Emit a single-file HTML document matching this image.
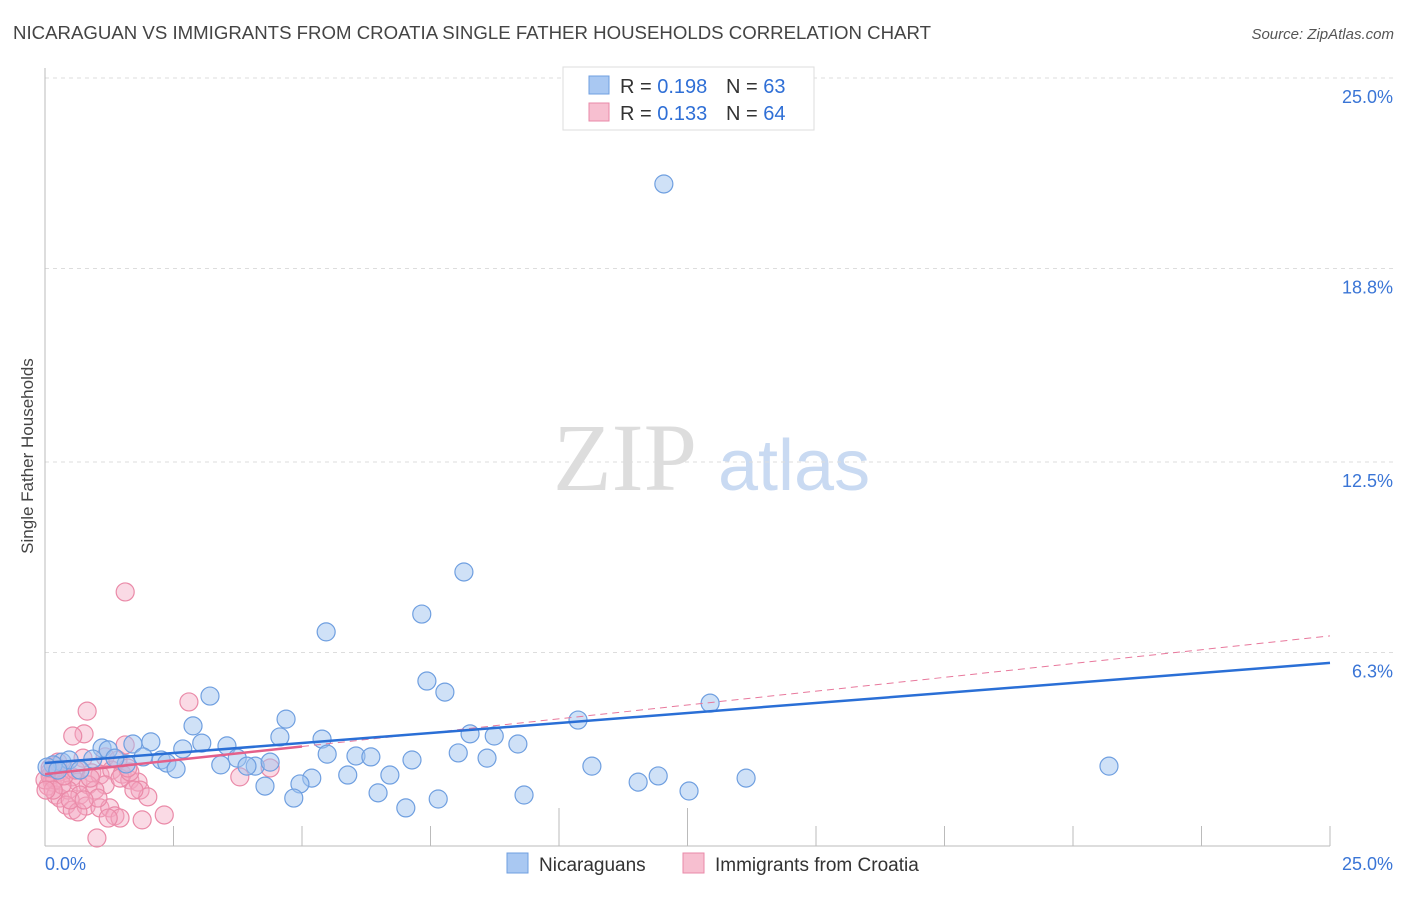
<!DOCTYPE html>
<html><head><meta charset="utf-8"><style>
body{margin:0;background:#fff;font-family:"Liberation Sans",sans-serif}
svg text{font-family:"Liberation Sans",sans-serif}
</style></head><body>
<svg id="chart" width="1406" height="892" viewBox="0 0 1406 892" xmlns="http://www.w3.org/2000/svg">
<text x="13" y="39" font-size="18" fill="#444" textLength="918" lengthAdjust="spacingAndGlyphs">NICARAGUAN VS IMMIGRANTS FROM CROATIA SINGLE FATHER HOUSEHOLDS CORRELATION CHART</text>
<text x="1394" y="39" font-size="15" fill="#555" text-anchor="end" font-style="italic">Source: ZipAtlas.com</text>
<g>
<text x="553" y="490" font-size="96" fill="#ddd" style="font-family:'Liberation Serif',serif">ZIP</text>
<text x="718" y="490" font-size="72" fill="#c9daf2">atlas</text>
</g>
<g id="grid"></g>
<g id="axes"></g>
<g id="trends"></g>
<g id="points"></g>
<text transform="translate(33,456) rotate(-90)" font-size="17" fill="#444" text-anchor="middle">Single Father Households</text>
<g>
<rect x="563" y="67" width="251" height="63" fill="#fff" stroke="#ddd"/>
<rect x="589" y="76" width="20" height="18" fill="#a9c8f2" stroke="#6f9fe0"/>
<text x="620" y="93" font-size="20" fill="#333">R = <tspan fill="#2f6fd6">0.198</tspan></text>
<text x="726" y="93" font-size="20" fill="#333">N = <tspan fill="#2f6fd6">63</tspan></text>
<rect x="589" y="103" width="20" height="18" fill="#f7bfd0" stroke="#ea8aa8"/>
<text x="620" y="120" font-size="20" fill="#333">R = <tspan fill="#2f6fd6">0.133</tspan></text>
<text x="726" y="120" font-size="20" fill="#333">N = <tspan fill="#2f6fd6">64</tspan></text>
</g>
<g>
<rect x="507" y="853" width="21" height="20" fill="#a9c8f2" stroke="#6f9fe0"/>
<text x="539" y="871" font-size="19" fill="#333">Nicaraguans</text>
<rect x="683" y="853" width="21" height="20" fill="#f7bfd0" stroke="#ea8aa8"/>
<text x="715" y="871" font-size="19" fill="#333">Immigrants from Croatia</text>
</g>
</svg>
<script>
const yTicks=[25.0,18.8,12.5,6.3];
const yTickLabels=["25.0%","18.8%","12.5%","6.3%"];
const xTickLabels=["0.0%","25.0%"];
const blueX=[12.04,8.15,7.33,5.47,7.43,7.78,3.21,12.94,4.69,10.37,2.88,8.27,8.74,4.57,5.39,2.06,1.71,9.20,3.05,3.54,2.68,1.11,1.23,5.49,6.05,6.34,8.04,8.60,0.33,0.47,0.93,1.91,2.26,2.37,2.55,3.74,4.09,3.93,4.38,3.42,7.14,10.64,20.70,1.58,0.16,0.04,5.19,4.96,5.89,6.71,11.93,13.64,11.54,4.28,12.53,6.48,9.32,7.65,4.84,7.02,0.25,0.68,1.36];
const blueY=[21.55,8.92,7.55,6.97,5.37,5.01,4.88,4.65,4.13,4.10,3.91,3.65,3.58,3.55,3.48,3.39,3.32,3.32,3.35,3.26,3.16,3.19,3.13,2.99,2.93,2.90,3.03,2.86,2.73,2.80,2.83,2.90,2.80,2.70,2.51,2.86,2.60,2.60,2.73,2.64,2.80,2.60,2.60,2.67,2.64,2.57,2.21,2.02,2.31,2.31,2.28,2.21,2.08,1.95,1.79,1.73,1.66,1.53,1.56,1.24,2.47,2.47,2.86];
const pinkX=[1.56,2.80,0.82,0.76,0.54,1.17,0.74,0.21,0.10,0.29,0.39,0.53,0.64,0.91,1.07,1.30,1.50,1.65,1.81,0.84,1.17,0.14,0.06,0.21,0.29,0.45,0.68,0.97,1.46,1.65,1.85,2.00,0.41,0.53,0.80,0.64,1.07,1.26,1.36,1.46,1.23,1.89,2.32,1.01,4.38,3.79,0.10,0.19,0.33,0.00,0.10,0.25,0.37,0.60,0.88,1.03,1.42,1.61,1.73,0.49,0.76,0.16,0.02,1.56];
const pinkY=[8.27,4.69,4.39,3.65,3.58,2.90,2.86,2.60,2.41,2.41,2.47,2.25,2.08,2.38,2.31,2.47,2.34,2.15,2.08,1.99,1.99,2.08,1.95,1.66,1.56,1.82,1.66,1.82,2.21,2.41,1.82,1.60,1.33,1.17,1.30,1.11,1.24,1.24,0.98,0.91,0.91,0.85,1.01,0.26,2.54,2.25,2.28,2.15,1.99,2.15,2.54,2.73,2.28,2.47,2.21,1.56,2.80,2.54,1.82,1.50,1.50,1.82,1.82,3.29];
const blueTrend=[2.70,5.96];
const pinkTrend=[2.34,6.84];
const pinkSolidEnd=5.0;

const NS="http://www.w3.org/2000/svg";
const x0=45,x1=1330,yb=846,yt=78;
const sx=v=>x0+(v/25)*(x1-x0);
const sy=v=>yb-(v/25)*(yb-yt);
function mk(t,a,p){const e=document.createElementNS(NS,t);for(const k in a)e.setAttribute(k,a[k]);p.appendChild(e);return e;}
const grid=document.getElementById('grid'),axes=document.getElementById('axes'),tr=document.getElementById('trends'),pts=document.getElementById('points');
yTicks.forEach((v,i)=>{
  const l=mk('line',{x1:x0,x2:1394,y1:sy(v),y2:sy(v),stroke:'#ddd','stroke-dasharray':'4,4'},grid);
  
  
  const t=mk('text',{x:1393,y:sy(v)+25,'font-size':18,fill:'#3a75d6','text-anchor':'end'},axes);
  t.textContent=yTickLabels[i];
  
  
});
const ya=mk('line',{x1:x0,x2:x0,y1:68,y2:yb,stroke:'#bbb'},axes);


const xa=mk('line',{x1:x0,x2:x1,y1:yb,y2:yb,stroke:'#bbb'},axes);


for(let i=1;i<=10;i++){
  const tk=mk('line',{x1:sx(i*2.5),x2:sx(i*2.5),y1:(i==4||i==5)?808:826,y2:yb,stroke:'#bbb'},axes);
  
  
}
const xl0=mk('text',{x:x0,y:870,'font-size':18,fill:'#3a75d6'},axes);xl0.textContent=xTickLabels[0];


const xl1=mk('text',{x:1393,y:870,'font-size':18,fill:'#3a75d6','text-anchor':'end'},axes);xl1.textContent=xTickLabels[1];



const pd=mk('line',{x1:sx(pinkSolidEnd),y1:sy(pinkTrend[0]+(pinkTrend[1]-pinkTrend[0])*pinkSolidEnd/25),x2:sx(25),y2:sy(pinkTrend[1]),stroke:'#e8789c','stroke-width':1,'stroke-dasharray':'7,5'},tr);



function dots(X,Y,fill,stroke,name){
  X.forEach((v,i)=>{
    const c=mk('circle',{cx:sx(v),cy:sy(Y[i]),r:9,fill:fill,stroke:stroke,'stroke-width':1.2},pts);
    
    
  });
}
dots(pinkX,pinkY,'rgba(244,168,194,0.42)','#ea8aa8','croatia-point');
dots(blueX,blueY,'rgba(160,196,240,0.5)','#6f9fe0','nicaraguan-point');

const bt=mk('line',{x1:sx(0),y1:sy(blueTrend[0]),x2:sx(25),y2:sy(blueTrend[1]),stroke:'#2a6fd6','stroke-width':2.5},tr);


const ps=mk('line',{x1:sx(0),y1:sy(pinkTrend[0]),x2:sx(pinkSolidEnd),y2:sy(pinkTrend[0]+(pinkTrend[1]-pinkTrend[0])*pinkSolidEnd/25),stroke:'#e4608a','stroke-width':2.5},tr);


pts.parentNode.appendChild(tr);
</script>
</body></html>
